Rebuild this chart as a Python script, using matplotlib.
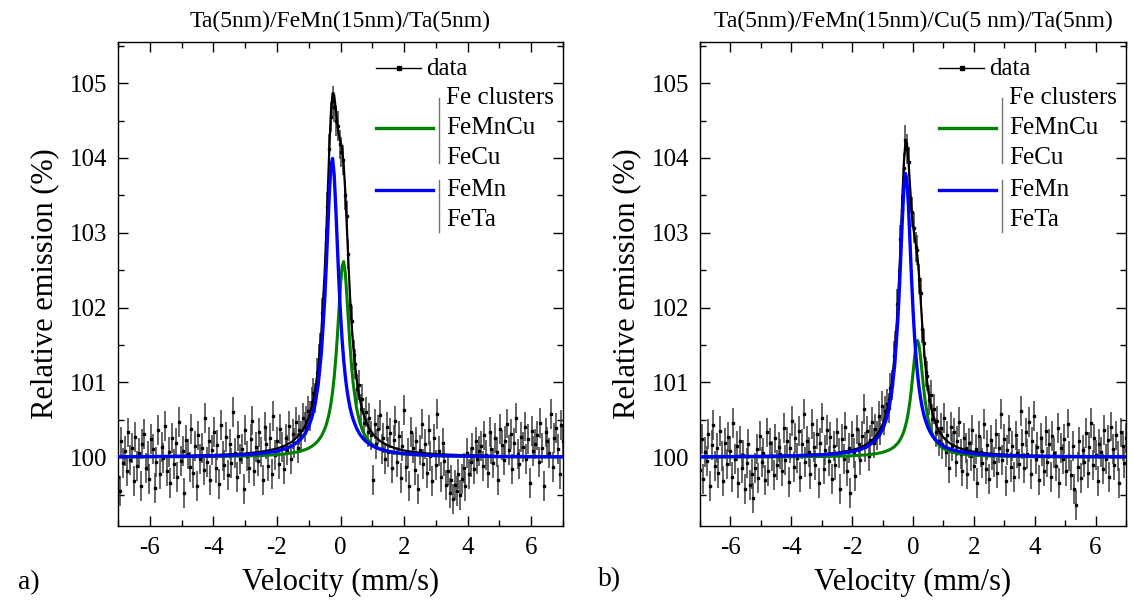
import numpy as np
import matplotlib.pyplot as plt
from matplotlib.ticker import MultipleLocator

plt.rcParams['font.family'] = ['Liberation Serif', 'DejaVu Serif']
plt.rcParams['axes.unicode_minus'] = False

# velocity axis: 256 folded channels between -7 and 7 mm/s
n_channels = 256
v_min, v_max = -7.0, 7.0

data_a = [
    99.74, 99.55, 100.21, 99.92, 100.08, 99.81, 100.33, 99.96, 100.12, 99.68, 100.27, 99.88, 100.05, 99.62, 100.18, 100.31,
    99.85, 100.02, 99.71, 100.24, 100.11, 99.59, 99.93, 100.36, 99.78, 100.14, 99.99, 100.42, 99.82, 100.07, 99.66, 100.26,
    99.91, 100.19, 99.73, 100.47, 99.95, 100.08, 99.52, 100.23, 100.04, 99.87, 100.38, 99.79, 100.15, 99.61, 100.29, 99.97,
    100.12, 99.83, 100.52, 99.94, 100.21, 99.70, 100.09, 100.34, 99.86, 100.16, 99.64, 100.43, 100.01, 99.90, 100.27, 99.76,
    100.18, 99.92, 100.61, 100.05, 99.74, 100.28, 99.97, 100.11, 99.58, 100.36, 100.02, 99.85, 100.24, 100.49, 99.81, 100.13,
    99.95, 100.33, 100.07, 99.69, 100.41, 100.18, 99.88, 100.26, 99.77, 100.55, 100.03, 100.21, 99.91, 100.38, 100.14, 99.84,
    100.25, 100.09, 100.42, 99.98, 100.31, 100.19, 100.47, 100.12, 100.36, 100.28, 100.53, 100.40, 100.49, 100.62, 100.55, 100.74,
    100.86, 100.79, 101.12, 101.31, 101.46, 101.93, 102.18, 102.86, 103.35, 104.12, 104.55, 104.76, 104.68, 104.49, 104.43, 104.18,
    104.08, 103.97, 103.51, 103.22, 102.71, 102.04, 101.82, 101.36, 101.25, 100.91, 100.97, 100.64, 100.78, 100.46, 100.61, 100.33,
    100.52, 100.29, 99.69, 100.44, 100.18, 100.37, 100.56, 100.11, 100.26, 99.98, 100.41, 100.07, 100.32, 99.86, 100.23, 100.48,
    99.94, 100.28, 99.72, 100.15, 100.63, 99.87, 100.05, 99.61, 100.34, 100.12, 99.83, 100.21, 99.58, 100.09, 100.44, 99.91,
    100.17, 99.79, 100.36, 100.02, 99.68, 100.25, 99.89, 100.58, 100.08, 99.74, 100.19, 99.95, 99.63, 99.81, 99.52, 99.70,
    99.44, 99.63, 99.55, 99.78, 99.49, 99.71, 99.86, 99.62, 100.05, 99.77, 99.93, 100.12, 99.84, 100.21, 99.97, 100.08,
    100.15, 99.88, 100.29, 100.03, 99.79, 100.34, 100.11, 99.92, 100.26, 100.07, 99.70, 100.38, 100.16, 99.96, 100.22, 100.45,
    100.09, 100.31, 99.84, 100.19, 100.52, 100.04, 99.91, 100.27, 100.13, 100.41, 99.98, 100.24, 99.66, 100.35, 100.08, 100.18,
    100.29, 99.93, 100.46, 100.12, 99.61, 100.33, 100.21, 100.05, 100.58, 99.87, 100.26, 100.39, 100.11, 99.78, 100.43, 100.22,
]
data_b = [
    99.83, 100.24, 99.71, 100.07, 99.95, 100.31, 99.62, 100.16, 100.43, 99.88, 100.12, 99.79, 100.35, 100.02, 99.68, 100.19,
    99.91, 100.27, 100.08, 99.74, 100.46, 99.97, 100.15, 99.66, 100.22, 99.85, 100.03, 99.58, 99.92, 100.18, 99.63, 99.77,
    99.45, 99.86, 100.11, 99.72, 100.28, 99.94, 100.06, 99.69, 100.33, 99.81, 100.19, 100.01, 99.76, 100.25, 99.89, 100.13,
    100.04, 99.82, 100.39, 99.96, 100.21, 99.67, 100.12, 100.48, 99.87, 100.26, 99.99, 100.35, 99.73, 100.17, 100.58, 99.93,
    100.22, 100.07, 99.78, 100.44, 100.13, 99.90, 100.31, 99.66, 100.19, 100.52, 99.84, 100.09, 100.36, 99.95, 100.27, 99.71,
    100.15, 99.89, 100.33, 100.05, 99.57, 100.24, 99.98, 100.41, 99.81, 100.12, 99.52, 100.29, 100.06, 99.75, 100.37, 100.18,
    99.96, 100.28, 100.64, 100.14, 100.35, 100.02, 100.23, 100.47, 100.19, 100.38, 100.29, 100.55, 100.36, 100.68, 100.49, 100.62,
    100.71, 100.66, 100.93, 100.97, 101.35, 101.49, 102.05, 102.33, 102.91, 103.31, 103.87, 104.24, 104.12, 103.95, 103.46, 103.28,
    103.06, 102.81, 102.77, 102.38, 102.19, 101.72, 101.52, 101.14, 101.08, 100.76, 100.83, 100.51, 100.64, 100.33, 100.48, 100.21,
    100.39, 100.18, 100.52, 100.07, 100.29, 99.86, 100.41, 100.15, 100.33, 99.93, 100.22, 100.47, 100.04, 99.81, 100.26, 100.12,
    99.77, 100.19, 100.02, 100.36, 99.88, 100.11, 99.65, 100.28, 100.07, 99.92, 100.44, 99.84, 100.16, 99.71, 100.23, 100.03,
    99.93, 100.31, 99.79, 100.12, 100.58, 99.96, 100.24, 99.68, 100.09, 100.37, 99.87, 100.15, 99.74, 100.29, 100.05, 99.91,
    100.62, 100.18, 99.85, 100.33, 100.04, 100.47, 99.78, 100.21, 100.55, 99.97, 100.13, 99.69, 100.26, 100.08, 99.82, 100.35,
    99.94, 100.17, 99.73, 100.28, 100.06, 99.88, 100.39, 99.65, 100.12, 99.98, 100.24, 99.81, 100.45, 100.02, 99.76, 100.15,
    99.58, 99.36, 99.87, 100.21, 99.72, 100.09, 99.93, 100.32, 99.79, 100.14, 100.46, 99.90, 100.25, 100.03, 99.68, 100.18,
    100.07, 99.84, 100.36, 99.97, 100.23, 99.74, 100.41, 100.11, 99.89, 100.29, 100.02, 99.66, 100.33, 100.15, 99.92, 100.26,
]
err_a = 0.2
err_b = 0.2

# fitted curves, sampled at these velocities
fit_vel = [-7, -5, -4, -3, -2.5, -2, -1.75, -1.5, -1.25, -1.1, -1.0, -0.9, -0.8, -0.7, -0.6,
           -0.5, -0.45, -0.4, -0.35, -0.3, -0.25, -0.2, -0.15, -0.1, -0.05, 0, 0.05, 0.1, 0.15,
           0.2, 0.25, 0.3, 0.35, 0.4, 0.5, 0.6, 0.7, 0.8, 0.9, 1.0, 1.1, 1.25, 1.5, 1.75, 2,
           2.5, 3, 4, 5, 7]

total_a = [100.009, 100.017, 100.027, 100.049, 100.071, 100.115, 100.154, 100.214, 100.321, 100.427,
           100.531, 100.676, 100.884, 101.197, 101.687, 102.453, 102.967, 103.551, 104.141, 104.620,
           104.865, 104.845, 104.660, 104.450, 104.300, 104.220, 104.125, 103.915, 103.550, 103.076,
           102.589, 102.148, 101.781, 101.484, 101.060, 100.787, 100.605, 100.480, 100.389, 100.322,
           100.271, 100.214, 100.153, 100.115, 100.089, 100.058, 100.041, 100.024, 100.015, 100.008]
green_a = [100.003, 100.006, 100.009, 100.016, 100.022, 100.034, 100.044, 100.058, 100.081, 100.102,
           100.121, 100.146, 100.178, 100.221, 100.283, 100.372, 100.432, 100.507, 100.601, 100.720,
           100.871, 101.065, 101.310, 101.610, 101.955, 102.300, 102.550, 102.615, 102.466, 102.165,
           101.814, 101.484, 101.206, 100.982, 100.669, 100.475, 100.351, 100.269, 100.211, 100.170,
           100.140, 100.108, 100.074, 100.054, 100.041, 100.026, 100.018, 100.010, 100.006, 100.003]
blue_a = [100.006, 100.011, 100.018, 100.033, 100.049, 100.081, 100.110, 100.156, 100.240, 100.325,
          100.410, 100.530, 100.706, 100.976, 101.404, 102.081, 102.535, 103.044, 103.540, 103.900,
          103.994, 103.780, 103.350, 102.840, 102.345, 101.920, 101.575, 101.300, 101.084, 100.911,
          100.775, 100.664, 100.575, 100.502, 100.391, 100.312, 100.254, 100.211, 100.178, 100.152,
          100.131, 100.107, 100.079, 100.061, 100.048, 100.033, 100.023, 100.014, 100.009, 100.005]

total_b = [100.007, 100.014, 100.022, 100.040, 100.059, 100.094, 100.126, 100.176, 100.264, 100.352,
           100.436, 100.555, 100.725, 100.981, 101.382, 102.013, 102.442, 102.945, 103.475, 103.938,
           104.207, 104.204, 103.972, 103.640, 103.329, 103.099, 102.949, 102.828, 102.667, 102.422,
           102.114, 101.792, 101.499, 101.251, 100.888, 100.654, 100.501, 100.395, 100.319, 100.264,
           100.222, 100.175, 100.125, 100.093, 100.073, 100.048, 100.034, 100.019, 100.012, 100.006]
green_b = [100.002, 100.003, 100.005, 100.009, 100.013, 100.019, 100.025, 100.032, 100.045, 100.056,
           100.065, 100.078, 100.094, 100.115, 100.145, 100.187, 100.215, 100.250, 100.292, 100.345,
           100.413, 100.499, 100.609, 100.748, 100.921, 101.122, 101.329, 101.495, 101.560, 101.495,
           101.329, 101.122, 100.921, 100.748, 100.499, 100.345, 100.250, 100.187, 100.145, 100.115,
           100.094, 100.071, 100.048, 100.034, 100.026, 100.016, 100.011, 100.006, 100.004, 100.002]
blue_b = [100.005, 100.011, 100.017, 100.031, 100.046, 100.075, 100.101, 100.144, 100.219, 100.296,
          100.371, 100.477, 100.631, 100.866, 101.237, 101.826, 102.227, 102.695, 103.183, 103.593,
          103.794, 103.705, 103.363, 102.892, 102.408, 101.977, 101.620, 101.333, 101.107, 100.927,
          100.785, 100.670, 100.578, 100.503, 100.389, 100.309, 100.251, 100.208, 100.174, 100.148,
          100.128, 100.104, 100.077, 100.059, 100.047, 100.031, 100.023, 100.013, 100.009, 100.005]

titles = ['Ta(5nm)/FeMn(15nm)/Ta(5nm)', 'Ta(5nm)/FeMn(15nm)/Cu(5 nm)/Ta(5nm)']
panel_tags = ['a)', 'b)']
group1 = ['Fe clusters', 'FeMnCu', 'FeCu']
group2 = ['FeMn', 'FeTa']

GREEN = '#008000'
BLUE = '#0000ff'

fig = plt.figure(figsize=(11.34, 6.07), dpi=100)
W, H = 1134, 607


def px_axes(x0, x1, y0, y1):
    return fig.add_axes([x0 / W, 1 - y1 / H, (x1 - x0) / W, (y1 - y0) / H])


def add_legend(ax):
    # legend drawn by hand: offsets in pixels from the top-right corner
    bb = ax.get_position()
    w, h = bb.width * W, bb.height * H
    fx = lambda d: 1 - d / w
    fy = lambda d: 1 - d / h
    kw = dict(transform=ax.transAxes, clip_on=False)
    ax.plot([fx(187), fx(142)], [fy(26)] * 2, color='k', lw=1.0, **kw)
    ax.plot([fx(164)], [fy(26)], 's', color='k', ms=2.5, **kw)
    ax.text(fx(137), fy(27), 'data', fontsize=18, va='center', ha='left', transform=ax.transAxes)
    ax.plot([fx(187), fx(130)], [fy(86)] * 2, color=GREEN, lw=2.4, **kw)
    ax.plot([fx(187), fx(130)], [fy(148)] * 2, color=BLUE, lw=2.4, **kw)
    ax.plot([fx(124)] * 2, [fy(56), fy(121)], color='0.45', lw=1.0, **kw)
    ax.plot([fx(124)] * 2, [fy(138), fy(190)], color='0.45', lw=1.0, **kw)
    for lab, dy in zip(group1 + group2, [56, 86, 116, 148, 178]):
        ax.text(fx(117), fy(dy), lab, fontsize=18, va='center', ha='left', transform=ax.transAxes)


vel = np.linspace(v_min, v_max, n_channels)
panels = [
    (px_axes(118, 563, 42, 526), data_a, err_a, total_a, green_a, blue_a),
    (px_axes(700, 1126, 42, 526), data_b, err_b, total_b, green_b, blue_b),
]

for k, (ax, data, err, tot, grn, blu) in enumerate(panels):
    ax.errorbar(vel, data, yerr=err, fmt='s', ms=2.0, color='k', ecolor='#3a3a3a',
                elinewidth=1.1, capsize=0, zorder=2)
    ax.plot(fit_vel, tot, color='k', lw=1.6, zorder=3)
    ax.plot(fit_vel, grn, color=GREEN, lw=2.2, zorder=4)
    ax.plot(fit_vel, blu, color=BLUE, lw=2.4, zorder=5)

    ax.set_xlim(-7, 7)
    ax.set_ylim(99.08, 105.55)
    ax.xaxis.set_major_locator(MultipleLocator(2))
    ax.xaxis.set_minor_locator(MultipleLocator(1))
    ax.yaxis.set_major_locator(MultipleLocator(1))
    ax.yaxis.set_minor_locator(MultipleLocator(0.5))
    ax.tick_params(which='both', direction='in', top=True, right=True, width=1.0, labelsize=18)
    ax.tick_params(which='major', length=7, pad=8)
    ax.tick_params(which='minor', length=4.5)
    for s in ax.spines.values():
        s.set_linewidth(1.0)

    ax.set_title(titles[k], fontsize=17, pad=11)
    ax.set_xlabel('Velocity (mm/s)', fontsize=22, labelpad=6)
    ax.set_ylabel('Relative emission (%)', fontsize=22, labelpad=7)
    add_legend(ax)

fig.text(18 / W, 1 - 583 / H, panel_tags[0], fontsize=20, va='center', ha='left')
fig.text(598 / W, 1 - 580 / H, panel_tags[1], fontsize=20, va='center', ha='left')

fig.savefig('out.png', dpi=100)
